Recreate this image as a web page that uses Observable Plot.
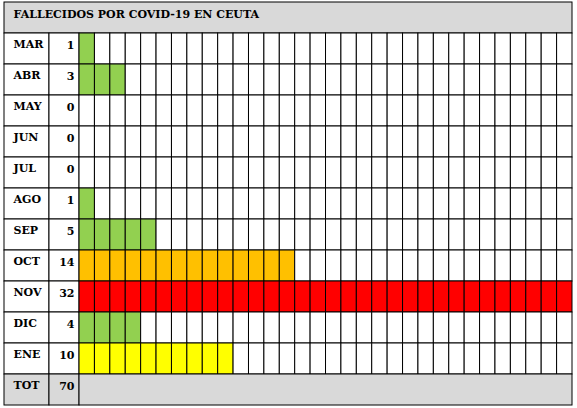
<!DOCTYPE html>
<html><head><meta charset="utf-8">
<script src="https://cdn.jsdelivr.net/npm/d3@7"></script>
<script src="https://cdn.jsdelivr.net/npm/@observablehq/plot@0.6"></script>
<style>body{margin:0;background:#fff;} svg{display:block;}</style>
</head><body><div id="chart"></div>
<script>
const title = "FALLECIDOS POR COVID-19 EN CEUTA";
const months = ["MAR","ABR","MAY","JUN","JUL","AGO","SEP","OCT","NOV","DIC","ENE"];
const values = [1,3,0,0,0,1,5,14,32,4,10];
const colors = ["#92d050","#92d050","#92d050","#92d050","#92d050","#92d050","#92d050","#ffc000","#ff0000","#92d050","#ffff00"];
const totalLabel = "TOT";
const nCells = 32;

const total = d3.sum(values);
const rows = ["title", ...months, totalLabel];
const LAB0 = -4.87, NUM0 = -1.95;

const cells = [];
months.forEach((m, i) => {
  for (let c = 0; c < nCells; c++) cells.push({m, c, fill: c < values[i] ? colors[i] : "white"});
});
const monthRows = months.map((m, i) => ({m, v: values[i]}));
const font = "'DejaVu Serif', serif";

const plot = Plot.plot({
  width: 577, height: 408,
  marginLeft: 4, marginRight: 5, marginTop: 2, marginBottom: 3,
  x: {domain: [LAB0, nCells], axis: null},
  y: {domain: rows, axis: null, padding: 0},
  style: {fontFamily: font, background: "white"},
  marks: [
    Plot.barX([{r: "title"}], {x1: LAB0, x2: nCells, y: "r", fill: "#d9d9d9", stroke: "black", strokeWidth: 1}),
    Plot.barX(monthRows, {x1: LAB0, x2: NUM0, y: "m", fill: "white", stroke: "black"}),
    Plot.barX(monthRows, {x1: NUM0, x2: 0, y: "m", fill: "white", stroke: "black"}),
    Plot.barX(cells, {x1: "c", x2: d => d.c + 1, y: "m", fill: "fill", stroke: "black"}),
    Plot.barX([{r: totalLabel}], {x1: LAB0, x2: NUM0, y: "r", fill: "#d9d9d9", stroke: "black"}),
    Plot.barX([{r: totalLabel}], {x1: NUM0, x2: 0, y: "r", fill: "#d9d9d9", stroke: "black"}),
    Plot.barX([{r: totalLabel}], {x1: 0, x2: nCells, y: "r", fill: "#d9d9d9", stroke: "black"}),
    Plot.text([title], {x: LAB0, y: () => "title", text: d => d, textAnchor: "start", dx: 9, dy: -4, fontWeight: "bold", fontSize: 11, fill: "black"}),
    Plot.text(monthRows, {x: LAB0, y: "m", text: "m", textAnchor: "start", dx: 9, dy: -5, fontWeight: "bold", fontSize: 11, fill: "black"}),
    Plot.text(monthRows, {x: 0, y: "m", text: d => String(d.v), textAnchor: "end", dx: -5, dy: -4, fontWeight: "bold", fontSize: 11, fill: "black"}),
    Plot.text([totalLabel], {x: LAB0, y: () => totalLabel, text: d => d, textAnchor: "start", dx: 9, dy: -5, fontWeight: "bold", fontSize: 11, fill: "black"}),
    Plot.text([total], {x: 0, y: () => totalLabel, text: d => String(d), textAnchor: "end", dx: -5, dy: -4, fontWeight: "bold", fontSize: 11, fill: "black"})
  ]
});
document.getElementById("chart").append(plot);
</script>
</body></html>
